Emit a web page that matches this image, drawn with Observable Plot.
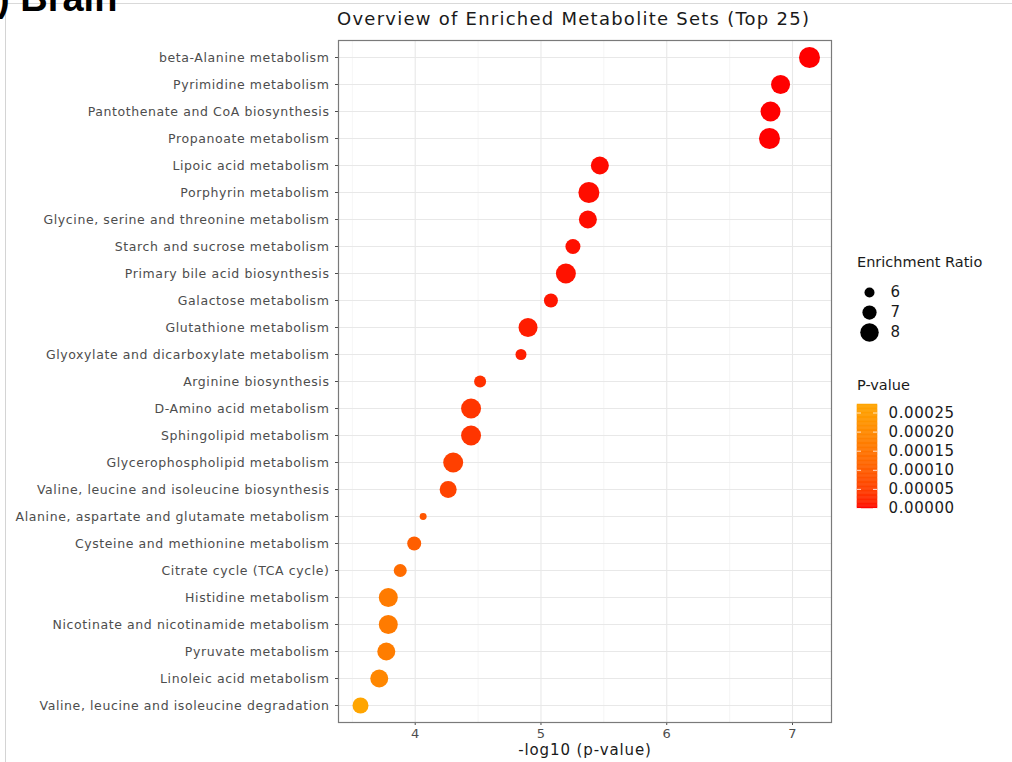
<!DOCTYPE html>
<html>
<head>
<meta charset="utf-8">
<script src="https://cdn.jsdelivr.net/npm/d3@7"></script>
<script src="https://cdn.jsdelivr.net/npm/@observablehq/plot@0.6"></script>
<style>
  html, body { margin: 0; padding: 0; background: #fff; }
  #wrap { position: relative; width: 1012px; height: 762px; overflow: hidden; background: #fff; font-family: "DejaVu Sans", sans-serif; }
  .abs { position: absolute; }
  #main svg g[aria-label^="y-axis"] text { letter-spacing: 0.6px; }
  #main svg g[aria-label^="x-axis"] text { font-size: 13px; }
  #colorLegend svg text { letter-spacing: 0.6px; }
</style>
</head>
<body>
<div id="wrap">
  <div class="abs" style="left:5px; top:3px; width:1100px; height:900px; border-top:1px solid #d9d9d9; border-left:1px solid #d4d4d4;"></div>
  <div class="abs" style="left:-3px; top:-23px; font-family:'Liberation Sans', Arial, sans-serif; font-weight:bold; font-size:38px; color:#000; white-space:nowrap;">) Brain</div>
  <div id="main" class="abs" style="left:0; top:0;"></div>
  <div id="title" class="abs" style="left:337px; top:8px; font-size:18px; letter-spacing:1.25px; color:#1a1a1a; white-space:nowrap;">Overview of Enriched Metabolite Sets (Top 25)</div>
  <div id="xlabel" class="abs" style="left:585px; top:741px; transform:translateX(-50%); font-size:15px; letter-spacing:0.9px; color:#1a1a1a; white-space:nowrap;">-log10 (p-value)</div>
  <div class="abs" style="left:857px; top:254px; font-size:14.5px; color:#1a1a1a; white-space:nowrap;">Enrichment Ratio</div>
  <div id="sizeLegend" class="abs" style="left:850px; top:280px;"></div>
  <div class="abs" style="left:857px; top:377px; font-size:14.5px; color:#1a1a1a; white-space:nowrap;">P-value</div>
  <div id="colorLegend" class="abs" style="left:850px; top:395px;"></div>
</div>
<script>
// ---- data ----
const categories = [
  "beta-Alanine metabolism",
  "Pyrimidine metabolism",
  "Pantothenate and CoA biosynthesis",
  "Propanoate metabolism",
  "Lipoic acid metabolism",
  "Porphyrin metabolism",
  "Glycine, serine and threonine metabolism",
  "Starch and sucrose metabolism",
  "Primary bile acid biosynthesis",
  "Galactose metabolism",
  "Glutathione metabolism",
  "Glyoxylate and dicarboxylate metabolism",
  "Arginine biosynthesis",
  "D-Amino acid metabolism",
  "Sphingolipid metabolism",
  "Glycerophospholipid metabolism",
  "Valine, leucine and isoleucine biosynthesis",
  "Alanine, aspartate and glutamate metabolism",
  "Cysteine and methionine metabolism",
  "Citrate cycle (TCA cycle)",
  "Histidine metabolism",
  "Nicotinate and nicotinamide metabolism",
  "Pyruvate metabolism",
  "Linoleic acid metabolism",
  "Valine, leucine and isoleucine degradation"
];
const negLog10P = [7.135, 6.905, 6.825, 6.817, 5.468, 5.381, 5.373, 5.254, 5.198, 5.079,
  4.897, 4.841, 4.516, 4.444, 4.444, 4.302, 4.262, 4.063, 3.992, 3.881,
  3.786, 3.786, 3.770, 3.714, 3.565];
const enrichmentRatio = [8.59, 8.12, 8.35, 8.59, 7.88, 8.59, 7.88, 7.18, 8.35, 6.94,
  8.12, 6.24, 6.47, 8.35, 8.35, 8.35, 7.65, 5.29, 6.94, 6.71,
  8.12, 8.12, 7.88, 7.88, 7.41];
const xTicks = [4, 5, 6, 7];
const xMinorTicks = [3.5, 4.5, 5.5, 6.5];
const sizeBreaks = [6, 7, 8];
const pBreaks = [0, 0.00005, 0.0001, 0.00015, 0.0002, 0.00025];

// ---- derived table ----
const data = categories.map((name, i) => ({
  name, x: negLog10P[i], p: Math.pow(10, -negLog10P[i]), er: enrichmentRatio[i]
}));
const pmax = d3.max(data, d => d.p);

const rScale = {type: "linear", domain: [6, 8], range: [5, 9.25]};
const colorScale = {type: "linear", domain: [0, pmax], range: ["#ff0000", "#ffa500"], interpolate: d3.interpolateLab};

const main = Plot.plot({
  width: 840, height: 762,
  marginLeft: 338, marginRight: 9, marginTop: 40, marginBottom: 40,
  style: {fontFamily: "DejaVu Sans", fontSize: "12.5px", color: "#4d4d4d", background: "transparent", overflow: "visible"},
  x: {domain: [3.39, 7.31], ticks: xTicks, tickSize: 3, tickPadding: 3, label: null, tickFormat: d => String(d)},
  y: {type: "point", domain: categories, padding: 0.6, tickSize: 3, tickPadding: 6, label: null},
  r: rScale,
  color: colorScale,
  marks: [
    Plot.ruleX(xMinorTicks, {stroke: "#f2f2f2", strokeWidth: 0.8}),
    Plot.ruleX(xTicks, {stroke: "#e8e8e8", strokeWidth: 1.1}),
    Plot.ruleY(categories, {stroke: "#e8e8e8", strokeWidth: 1.1}),
    Plot.dot(data, {x: "x", y: "name", r: "er", fill: "p"}),
    Plot.frame({stroke: "#7a7a7a", strokeWidth: 1.2})
  ]
});
document.getElementById("main").appendChild(main);

const sizeLeg = Plot.plot({
  width: 60, height: 70, margin: 0,
  style: {fontFamily: "DejaVu Sans", fontSize: "15px", color: "#1a1a1a", background: "transparent", overflow: "visible"},
  x: {domain: [0, 1], range: [19, 40], axis: null},
  y: {type: "point", domain: sizeBreaks, range: [11, 52], padding: 0, axis: null},
  r: rScale,
  marks: [
    Plot.dot(sizeBreaks, {x: 0, y: d => d, r: d => d, fill: "#000"}),
    Plot.text(sizeBreaks, {x: 1, y: d => d, text: d => String(d), textAnchor: "start", fill: "#1a1a1a"})
  ]
});
document.getElementById("sizeLegend").appendChild(sizeLeg);

const nb = 80;
const bands = d3.range(nb).map(i => ({y1: i * pmax / nb, y2: (i + 1) * pmax / nb, v: (i + 0.5) * pmax / nb}));
const colorLeg = Plot.plot({
  width: 162, height: 125, margin: 0,
  style: {fontFamily: "DejaVu Sans", fontSize: "15px", color: "#1a1a1a", background: "transparent", overflow: "visible"},
  x: {domain: [0, 1], range: [7, 27], axis: null},
  y: {domain: [0, pmax], range: [113, 9], axis: null},
  color: colorScale,
  marks: [
    Plot.rect(bands, {x1: 0, x2: 1, y1: "y1", y2: "y2", fill: "v", stroke: "v", strokeWidth: 0.5}),
    Plot.ruleY(pBreaks, {x1: 0, x2: 0.2, stroke: "#fff", strokeOpacity: 0.8}),
    Plot.ruleY(pBreaks, {x1: 0.8, x2: 1, stroke: "#fff", strokeOpacity: 0.8}),
    Plot.text(pBreaks, {x: 1, y: d => d, dx: 11, text: d => d.toFixed(5), textAnchor: "start", fill: "#1a1a1a"})
  ]
});
document.getElementById("colorLegend").appendChild(colorLeg);
</script>
</body>
</html>
